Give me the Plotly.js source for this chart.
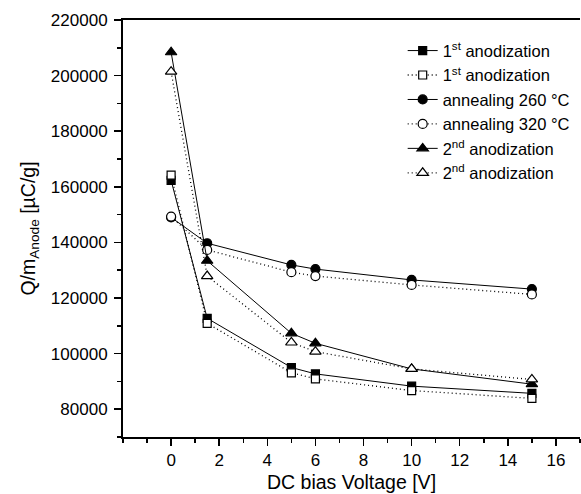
<!DOCTYPE html>
<html>
<head>
<meta charset="utf-8">
<script src="https://cdn.plot.ly/plotly-3.0.1.min.js"></script>
<style>html,body{margin:0;padding:0;background:#fff;}#chart{width:581px;height:494px;}</style>
</head>
<body>
<div id="chart"></div>
<script>
const voltage = [0, 1.5, 5, 6, 10, 15];
const anod1Filled = [162300, 112700, 95000, 92700, 88300, 85700];
const anod1Open   = [164200, 110900, 93100, 90900, 86700, 83900];
const anneal260   = [149000, 139700, 131900, 130400, 126500, 123200];
const anneal320   = [149300, 137300, 129300, 127900, 124700, 121300];
const anod2Filled = [208400, 133400, 107300, 103700, 94500, 89000];
const anod2Open   = [201400, 127900, 104000, 100700, 94500, 90700];
const names = ['1<sup>st</sup> anodization', '1<sup>st</sup> anodization', 'annealing 260 °C', 'annealing 320 °C', '2<sup>nd</sup> anodization', '2<sup>nd</sup> anodization'];
const xTickVals = [0, 2, 4, 6, 8, 10, 12, 14, 16];
const yTickVals = [80000, 100000, 120000, 140000, 160000, 180000, 200000, 220000];

function tr(y, name, symbol, filled, dotted, size) {
  return {
    x: voltage, y: y, name: name, type: 'scatter', mode: 'lines+markers',
    line: {color: '#000', width: dotted ? 1.3 : 1, dash: dotted ? '1px,3px' : 'solid'},
    marker: {symbol: symbol, size: size, color: filled ? '#000' : '#fff', line: {color: '#000', width: 1.2}}
  };
}
const data = [
  tr(anod1Filled, names[0], 'square', true, false, 8),
  tr(anod1Open, names[1], 'square', false, true, 8),
  tr(anneal260, names[2], 'circle', true, false, 9),
  tr(anneal320, names[3], 'circle', false, true, 9),
  tr(anod2Filled, names[4], 'triangle-up', true, false, 10),
  tr(anod2Open, names[5], 'triangle-up', false, true, 10)
];
const font = {family: 'Liberation Sans, Arial, sans-serif', color: '#000'};
const layout = {
  width: 581, height: 494,
  margin: {l: 123, r: 1, t: 20, b: 57},
  paper_bgcolor: '#fff', plot_bgcolor: '#fff',
  font: Object.assign({size: 17}, font),
  showlegend: true,
  legend: {x: 0.612, y: 0.968, xanchor: 'left', yanchor: 'top', bgcolor: 'rgba(0,0,0,0)',
           font: Object.assign({size: 16.5}, font), tracegroupgap: 0},
  xaxis: {
    range: [-2, 17], showgrid: false, zeroline: false,
    showline: true, linecolor: '#000', linewidth: 2, mirror: true,
    ticks: 'outside', ticklen: 7, tickwidth: 1.5, tickcolor: '#000',
    tickvals: xTickVals,
    tickfont: Object.assign({size: 17}, font),
    minor: {dtick: 1, tick0: -2, ticks: 'outside', ticklen: 4, tickwidth: 1.5, tickcolor: '#000'},
    title: {text: 'DC bias Voltage [V]', font: Object.assign({size: 19.5}, font), standoff: 6}
  },
  yaxis: {
    range: [70000, 220000], showgrid: false, zeroline: false,
    showline: true, linecolor: '#000', linewidth: 2,
    ticks: 'outside', ticklen: 7, tickwidth: 1.5, tickcolor: '#000',
    tickvals: yTickVals, tickformat: 'd', ticklabelstandoff: 3,
    tickfont: Object.assign({size: 17}, font),
    minor: {dtick: 20000, tick0: 70000, ticks: 'outside', ticklen: 4, tickwidth: 1.5, tickcolor: '#000'},
    title: {text: 'Q/m<sub>Anode</sub> [µC/g]', font: Object.assign({size: 19.5}, font), standoff: 10}
  }
};
Plotly.newPlot('chart', data, layout, {displayModeBar: false, staticPlot: true});
</script>
</body>
</html>
